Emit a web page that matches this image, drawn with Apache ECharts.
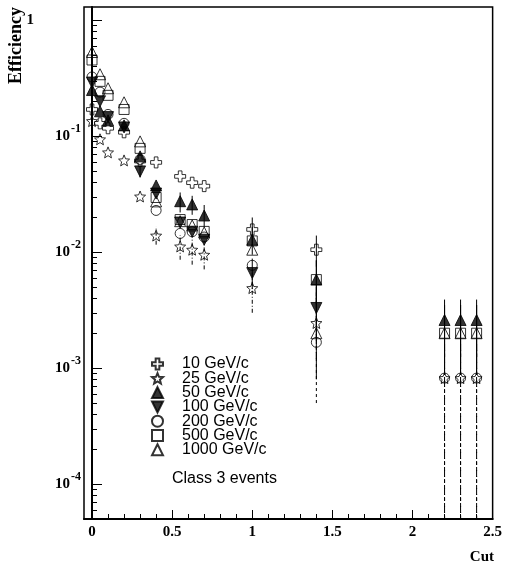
<!DOCTYPE html>
<html>
<head>
<meta charset="utf-8">
<script src="https://cdn.jsdelivr.net/npm/echarts@6/dist/echarts.min.js"></script>
<style>
  html, body { margin: 0; padding: 0; background: #fff; }
  #chart { width: 505px; height: 569px; }
</style>
</head>
<body>
<div id="chart"></div>
<script>
// Cut values at which the efficiency was evaluated
const cuts = [0, 0.05, 0.1, 0.2, 0.3, 0.4, 0.55, 0.625, 0.7, 1.0, 1.4, 2.2, 2.3, 2.4];

// Beam momenta (legend entries)
const momenta = ['10 GeV/c', '25 GeV/c', '50 GeV/c', '100 GeV/c', '200 GeV/c', '500 GeV/c', '1000 GeV/c'];

// Efficiency per momentum, one value per cut (null = no entry)
const eff10   = [0.170, 0.129, 0.117, 0.108, 0.061, 0.0594, 0.045, 0.0397, 0.0371, 0.0157, 0.0105, null, null, null];
const eff25   = [0.135, 0.094, 0.0725, 0.0618, 0.0302, 0.0139, 0.0112, 0.0105, 0.0095, 0.0049, 0.00245, 0.00082, 0.00082, 0.00082];
const eff50   = [0.250, 0.164, 0.137, 0.124, 0.067, 0.0376, 0.0275, 0.0258, 0.0207, 0.0128, 0.0058, 0.0026, 0.0026, 0.0026];
const eff100  = [0.290, 0.200, 0.146, 0.119, 0.0497, 0.032, 0.0180, 0.0150, 0.0128, 0.0066, 0.0033, null, null, null];
const eff200  = [0.324, 0.240, 0.154, 0.129, 0.063, 0.0229, 0.0145, 0.0150, 0.0135, 0.0077, 0.00167, 0.00082, 0.00082, 0.00082];
const eff500  = [0.454, 0.297, 0.225, 0.170, 0.0785, 0.0296, 0.0191, 0.0173, 0.0151, 0.0125, 0.0058, 0.0020, 0.0020, 0.0020];
const eff1000 = [0.532, 0.342, 0.259, 0.196, 0.0902, 0.0274, 0.0185, 0.0170, 0.0148, 0.0105, 0.0020, 0.0020, 0.0020, 0.0020];

// Error bars: [cut, lower, upper]; a lower bound of 0 runs off the log scale
const err10   = [[1.0, 0.0115, 0.0199], [1.4, 0.0075, 0.0139]];
const err25   = [[0.4, 0.0116, 0.0166], [0.55, 0.0086, 0.0140], [0.625, 0.0078, 0.0135], [0.7, 0.0071, 0.0125],
                 [1.0, 0.0030, 0.0070], [1.4, 0.0012, 0.0045], [2.2, 0, 0.0016], [2.3, 0, 0.0016], [2.4, 0, 0.0016]];
const err50   = [[0.55, 0.022, 0.0327], [0.625, 0.021, 0.0306], [0.7, 0.0165, 0.0255], [1.0, 0.0095, 0.0165],
                 [1.4, 0.0036, 0.0085], [2.2, 0.0012, 0.0039], [2.3, 0.0012, 0.0039], [2.4, 0.0012, 0.0039]];
const err100  = [[0.3, 0.044, 0.056], [1.0, 0.0048, 0.0088], [1.4, 0.0018, 0.0050]];
const err200  = [[1.4, 0.0005, 0.0035], [2.2, 0, 0.0016], [2.3, 0, 0.0016], [2.4, 0, 0.0016]];
const err500  = [[1.4, 0.0036, 0.0085], [2.2, 0.0009, 0.0035], [2.3, 0.0009, 0.0035], [2.4, 0.0009, 0.0035]];
const err1000 = [[1.4, 0.0008, 0.0040], [2.2, 0.0009, 0.0035], [2.3, 0.0009, 0.0035], [2.4, 0.0009, 0.0035]];

// Axis tick labels
const xTickLabels = [0, 0.5, 1, 1.5, 2, 2.5];
const yTickLabels = [1e-4, 1e-3, 1e-2, 1e-1, 1];

const X_MIN = -0.05, X_MAX = 2.5;
const Y_MIN = 5e-5, Y_MAX = 1.3;

// Minor ticks: every 0.1 on x, 2..9 per decade on y
const xMinor = [];
for (let i = 1; i <= 25; i++) { if (i % 5 !== 0) xMinor.push(+(i * 0.1).toFixed(2)); }
const yMinor = [];
for (let d = -5; d <= 0; d++) {
  for (let k = 2; k <= 9; k++) {
    const v = k * Math.pow(10, d);
    if (v >= Y_MIN && v <= Y_MAX) yMinor.push(v);
  }
}

const SERIF = '"Liberation Serif", "DejaVu Serif", serif';
const SANS = '"Liberation Sans", Arial, sans-serif';

const openStyle = { color: 'rgba(0,0,0,0)', borderColor: '#000', borderWidth: 1 };
const fillStyle = { color: '#000', borderColor: '#000', borderWidth: 1 };

const CROSS = 'path://M-1,-3L1,-3L1,-1L3,-1L3,1L1,1L1,3L-1,3L-1,1L-3,1L-3,-1L-1,-1Z';
const STAR = 'path://M0,-10L2.6,-3.6L9.51,-3.09L4.2,1.4L5.88,8.09L0,4.4L-5.88,8.09L-4.2,1.4L-9.51,-3.09L-2.6,-3.6Z';
const DOWN_TRIANGLE = 'path://M-1,-1L1,-1L0,1Z';

const markers = [
  { values: eff10,   errors: err10,   symbol: CROSS,      size: 11, rotate: 0,   style: openStyle, dash: null },
  { values: eff25,   errors: err25,   symbol: STAR,       size: 11, rotate: 0,   style: openStyle, dash: [4, 2, 1, 2] },
  { values: eff50,   errors: err50,   symbol: 'triangle', size: 11, rotate: 0,   style: fillStyle, dash: null },
  { values: eff100,  errors: err100,  symbol: 'triangle', size: 11, rotate: 180, style: fillStyle, dash: null },
  { values: eff200,  errors: err200,  symbol: 'circle',   size: 10, rotate: 0,   style: openStyle, dash: [3, 3] },
  { values: eff500,  errors: err500,  symbol: 'rect',     size: 10, rotate: 0,   style: openStyle, dash: null },
  { values: eff1000, errors: err1000, symbol: 'triangle', size: 11, rotate: 0,   style: openStyle, dash: null }
];

function errorBarRenderer(dash) {
  return function (params, api) {
    const x = api.value(0);
    const lo = Math.max(api.value(1), Y_MIN);
    const hi = api.value(2);
    const p1 = api.coord([x, lo]);
    const p2 = api.coord([x, hi]);
    return {
      type: 'line',
      shape: { x1: p1[0], y1: p1[1], x2: p2[0], y2: p2[1] },
      style: { stroke: '#000', lineWidth: 1, lineDash: dash || null }
    };
  };
}

const series = [];
markers.forEach((m, i) => {
  series.push({
    type: 'custom',
    name: momenta[i] + ' errors',
    renderItem: errorBarRenderer(m.dash),
    data: m.errors,
    encode: { x: 0, y: [1, 2] },
    clip: true,
    z: 1,
    silent: true
  });
});
markers.forEach((m, i) => {
  series.push({
    type: 'scatter',
    name: momenta[i],
    symbol: m.symbol,
    symbolSize: m.size,
    symbolRotate: m.rotate,
    itemStyle: m.style,
    data: cuts.map((c, j) => m.values[j] == null ? null : [c, m.values[j]]).filter(d => d),
    z: 2,
    emphasis: { disabled: true }
  });
});

// Legend entries; the downward triangle gets an explicit icon
const legendData = momenta.map((name, i) =>
  markers[i].rotate === 180 ? { name: name, icon: DOWN_TRIANGLE } : { name: name });

const chart = echarts.init(document.getElementById('chart'), null, { renderer: 'canvas' });
chart.setOption({
  animation: false,
  backgroundColor: '#fff',
  grid: { left: 84, right: 10, top: 7, bottom: 50, show: true, borderColor: '#000', borderWidth: 1.5 },
  xAxis: [
    {
      type: 'value', min: X_MIN, max: X_MAX, position: 'bottom',
      axisLine: { lineStyle: { color: '#000', width: 2 } },
      axisTick: { inside: true, length: 9, customValues: xTickLabels, lineStyle: { color: '#000', width: 1 } },
      axisLabel: {
        customValues: xTickLabels, margin: 6, color: '#000',
        fontFamily: SERIF, fontWeight: 'bold', fontSize: 15,
        formatter: v => String(v)
      },
      splitLine: { show: false }
    },
    {
      type: 'value', min: X_MIN, max: X_MAX, position: 'bottom',
      axisLine: { show: false },
      axisTick: { inside: true, length: 5, customValues: xMinor, lineStyle: { color: '#000', width: 1 } },
      axisLabel: { show: false },
      splitLine: { show: false }
    }
  ],
  yAxis: [
    {
      type: 'log', logBase: 10, min: Y_MIN, max: Y_MAX, position: 'left',
      axisLine: { lineStyle: { color: '#000', width: 2 } },
      axisTick: { inside: true, length: 10, customValues: yTickLabels, lineStyle: { color: '#000', width: 1 } },
      axisLabel: {
        customValues: yTickLabels, margin: 3, color: '#000', align: 'right',
        formatter: v => {
          const n = Math.round(Math.log10(v));
          return n === 0 ? '{one|1}' : '{b|10}{e|' + n + '}';
        },
        rich: {
          one: { fontFamily: SERIF, fontWeight: 'bold', fontSize: 15, padding: [0, 47, 0, 0], color: '#000' },
          b: { fontFamily: SERIF, fontWeight: 'bold', fontSize: 15, lineHeight: 15, color: '#000' },
          e: { fontFamily: SERIF, fontWeight: 'bold', fontSize: 12, lineHeight: 12, color: '#000', padding: [0, 0, 14, 1] }
        }
      },
      splitLine: { show: false }
    },
    {
      type: 'log', logBase: 10, min: Y_MIN, max: Y_MAX, position: 'left',
      axisLine: { show: false },
      axisTick: { inside: true, length: 5, customValues: yMinor, lineStyle: { color: '#000', width: 1 } },
      axisLabel: { show: false },
      splitLine: { show: false }
    }
  ],
  legend: {
    data: legendData,
    orient: 'vertical',
    left: 146, top: 351,
    itemWidth: 11, itemHeight: 11, itemGap: -1.7,
    selectedMode: false,
    textStyle: { fontFamily: SANS, fontSize: 16, color: '#000', padding: [0, 0, 0, 14] }
  },
  graphic: [
    {
      type: 'text', x: 16, y: 7, rotation: Math.PI / 2,
      style: { text: 'Efficiency', fontFamily: SERIF, fontWeight: 'bold', fontSize: 18, fill: '#000', align: 'right', verticalAlign: 'middle' }
    },
    {
      type: 'text', x: 494, y: 557,
      style: { text: 'Cut', fontFamily: SERIF, fontWeight: 'bold', fontSize: 15, fill: '#000', align: 'right', verticalAlign: 'middle' }
    },
    {
      type: 'text', x: 172, y: 479,
      style: { text: 'Class 3 events', fontFamily: SANS, fontSize: 16, fill: '#000', align: 'left', verticalAlign: 'middle' }
    }
  ],
  series: series
});
</script>
</body>
</html>
